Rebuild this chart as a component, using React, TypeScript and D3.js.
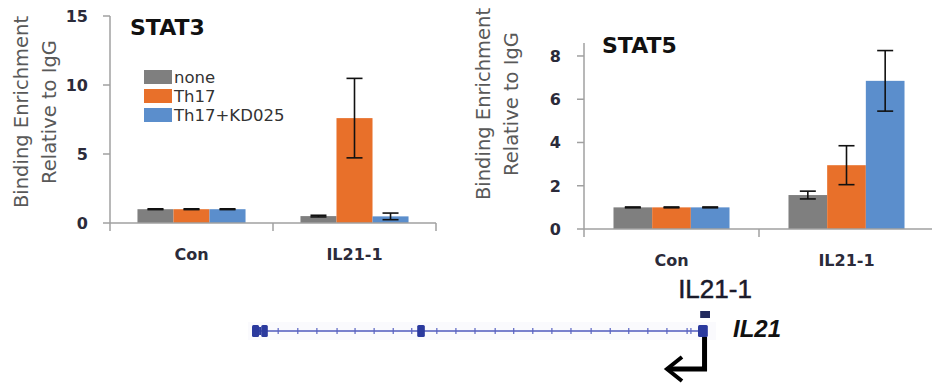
import React from "react";
import * as d3 from "d3";

// ---------- data ----------
const categories = ["Con", "IL21-1"];
const seriesNames = ["none", "Th17", "Th17+KD025"];
const seriesColors = ["#7F7F7F", "#E8702A", "#5B8ECC"];

const stat3None = [1.0, 0.5];
const stat3Th17 = [1.0, 7.6];
const stat3KD = [1.0, 0.48];
const stat3NoneErr = [0.03, 0.06];
const stat3Th17Err = [0.03, 2.88];
const stat3KDErr = [0.03, 0.24];
const stat3Ticks = [0, 5, 10, 15];

const stat5None = [1.0, 1.57];
const stat5Th17 = [1.0, 2.95];
const stat5KD = [1.0, 6.85];
const stat5NoneErr = [0.02, 0.18];
const stat5Th17Err = [0.02, 0.9];
const stat5KDErr = [0.02, 1.4];
const stat5Ticks = [0, 2, 4, 6, 8];

// gene track (kb along IL21 locus)
const geneSpan = [0, 8.4];
const exonTall = [
  [0, 0.13],
  [0.17, 0.29],
  [3.03, 3.17],
  [8.18, 8.36],
];
const exonShort = [[0.13, 0.17]];
const intronTicks = [
  0.48, 0.84, 1.19, 1.56, 1.89, 2.24, 2.59, 2.93, 3.39, 3.74, 4.09, 4.46, 4.8,
  5.15, 5.5, 5.85, 6.22, 6.57, 6.91, 7.26, 7.61, 7.98, 8.05,
];
const ampliconPos = [8.22, 8.4];

const FONT = "'DejaVu Sans', Verdana, sans-serif";

type PanelProps = {
  title: string;
  values: number[][];
  errors: number[][];
  ticks: number[];
  yMax: number;
  xRange: [number, number];
  yRange: [number, number];
  tickLabelX: number;
  labelX: [number, number];
  labelCY: number;
  titleX: number;
  titleY: number;
  legend?: boolean;
};

function Panel(p: PanelProps) {
  const x = d3.scaleBand<string>().domain(categories).range(p.xRange);
  const y = d3.scaleLinear().domain([0, p.yMax]).range(p.yRange);
  const bw = x.bandwidth();
  const inner = d3
    .scaleBand<string>()
    .domain(seriesNames)
    .range([bw * 0.1685, bw * 0.8315]);
  const y0 = y(0);
  const axisColor = "#A0A0A0";
  const bounds = [...categories.map((c) => x(c) as number), p.xRange[1]];
  return (
    <g>
      {seriesNames.map((s, si) =>
        categories.map((c, ci) => {
          const v = p.values[si][ci];
          const bx = (x(c) as number) + (inner(s) as number);
          return (
            <rect
              key={s + c}
              x={bx}
              y={y(v)}
              width={inner.bandwidth()}
              height={y0 - y(v)}
              fill={seriesColors[si]}
            />
          );
        })
      )}
      {seriesNames.map((s, si) =>
        categories.map((c, ci) => {
          const v = p.values[si][ci];
          const e = p.errors[si][ci];
          const cx = (x(c) as number) + (inner(s) as number) + inner.bandwidth() / 2;
          const yt = y(v + e);
          const yb = y(v - e);
          return (
            <g key={"e" + s + c} stroke="#111" strokeWidth={1.6}>
              <line x1={cx} x2={cx} y1={yt} y2={yb} />
              <line x1={cx - 8} x2={cx + 8} y1={yt} y2={yt} />
              <line x1={cx - 8} x2={cx + 8} y1={yb} y2={yb} />
            </g>
          );
        })
      )}
      <line x1={p.xRange[0]} x2={p.xRange[0]} y1={p.yRange[1]} y2={y0} stroke={axisColor} strokeWidth={1.5} />
      <line x1={p.xRange[0]} x2={p.xRange[1]} y1={y0} y2={y0} stroke={axisColor} strokeWidth={1.5} />
      {p.ticks.map((t) => (
        <g key={"t" + t}>
          <line x1={p.xRange[0] - 7} x2={p.xRange[0]} y1={y(t)} y2={y(t)} stroke={axisColor} strokeWidth={1.5} />
          <text
            x={p.tickLabelX}
            y={y(t)}
            dy="0.36em"
            textAnchor="end"
            fontFamily={FONT}
            fontWeight="bold"
            fontSize={16}
            fill="#2b2b3a"
          >
            {t}
          </text>
        </g>
      ))}
      {bounds.map((b, i) => (
        <line key={"b" + i} x1={b} x2={b} y1={y0} y2={y0 + 8} stroke={axisColor} strokeWidth={1.5} />
      ))}
      {categories.map((c) => (
        <text
          key={"c" + c}
          x={(x(c) as number) + bw / 2}
          y={y0 + 37}
          textAnchor="middle"
          fontFamily={FONT}
          fontWeight="bold"
          fontSize={16}
          fill="#2b2b3a"
        >
          {c}
        </text>
      ))}
      <g fontFamily={FONT} fontSize={19.5} fill="#595959" textAnchor="middle">
        <text transform={`translate(${p.labelX[0]},${p.labelCY}) rotate(-90)`}>Binding Enrichment</text>
        <text transform={`translate(${p.labelX[1]},${p.labelCY}) rotate(-90)`}>Relative to IgG</text>
      </g>
      <text x={p.titleX} y={p.titleY} fontFamily={FONT} fontWeight="bold" fontSize={22} fill="#111">
        {p.title}
      </text>
      {p.legend &&
        seriesNames.map((s, i) => (
          <g key={"l" + s}>
            <rect x={144} y={70 + i * 19} width={28} height={14} fill={seriesColors[i]} />
            <text x={174} y={77 + i * 19} dy="0.36em" fontFamily={FONT} fontSize={16.5} fill="#333">
              {s}
            </text>
          </g>
        ))}
    </g>
  );
}

function GeneTrack() {
  const gx = d3.scaleLinear().domain(geneSpan).range([252, 710]);
  const gy = 331;
  const geneColor = "#2B3A9E";
  return (
    <g>
      <rect x={gx(0) - 4} y={gy - 9} width={gx(8.4) - gx(0) + 10} height={18} fill="#FAFAFD" />
      <line x1={gx(0)} x2={gx(8.3)} y1={gy} y2={gy} stroke="#4F5ABD" strokeWidth={1.3} />
      {intronTicks.map((t, i) => (
        <line key={i} x1={gx(t)} x2={gx(t)} y1={gy - 3} y2={gy + 3} stroke="#5A64C2" strokeWidth={1.2} />
      ))}
      {exonTall.map((e, i) => (
        <rect key={"x" + i} x={gx(e[0])} y={gy - 6} width={gx(e[1]) - gx(e[0])} height={12} rx={1.5} fill={geneColor} />
      ))}
      {exonShort.map((e, i) => (
        <rect key={"s" + i} x={gx(e[0])} y={gy - 4} width={gx(e[1]) - gx(e[0])} height={8} fill={geneColor} />
      ))}
      <rect x={gx(ampliconPos[0])} y={311} width={gx(ampliconPos[1]) - gx(ampliconPos[0])} height={7} fill="#232B5E" />
      <text
        x={715}
        y={298}
        textAnchor="middle"
        fontFamily="'Liberation Sans', Arial, sans-serif"
        fontSize={26}
        fill="#1a1a2a"
        stroke="#1a1a2a"
        strokeWidth={0.5}
      >
        IL21-1
      </text>
      <text x={733} y={337} fontFamily="'Liberation Sans', Arial, sans-serif" fontWeight="bold" fontStyle="italic" fontSize={24} fill="#111">
        IL21
      </text>
      <path d={`M${gx(8.3)},${gy + 6} V369 H668`} fill="none" stroke="#000" strokeWidth={5} />
      <path d="M682,357 L667,369 L682,381" fill="none" stroke="#000" strokeWidth={4} />
    </g>
  );
}

export default function App() {
  return (
    <svg
      width={932}
      height={383}
      style={{ position: "absolute", left: 0, top: 0, background: "#fff" }}
    >
      <rect width={932} height={383} fill="#fff" />
      <Panel
        title="STAT3"
        values={[stat3None, stat3Th17, stat3KD]}
        errors={[stat3NoneErr, stat3Th17Err, stat3KDErr]}
        ticks={stat3Ticks}
        yMax={15}
        xRange={[110, 436]}
        yRange={[223, 16]}
        tickLabelX={88}
        labelX={[28, 56]}
        labelCY={112}
        titleX={130}
        titleY={35}
        legend
      />
      <Panel
        title="STAT5"
        values={[stat5None, stat5Th17, stat5KD]}
        errors={[stat5NoneErr, stat5Th17Err, stat5KDErr]}
        ticks={stat5Ticks}
        yMax={8.6}
        xRange={[584, 934]}
        yRange={[229, 43]}
        tickLabelX={561}
        labelX={[490, 518]}
        labelCY={104}
        titleX={602}
        titleY={53}
      />
      <GeneTrack />
    </svg>
  );
}
